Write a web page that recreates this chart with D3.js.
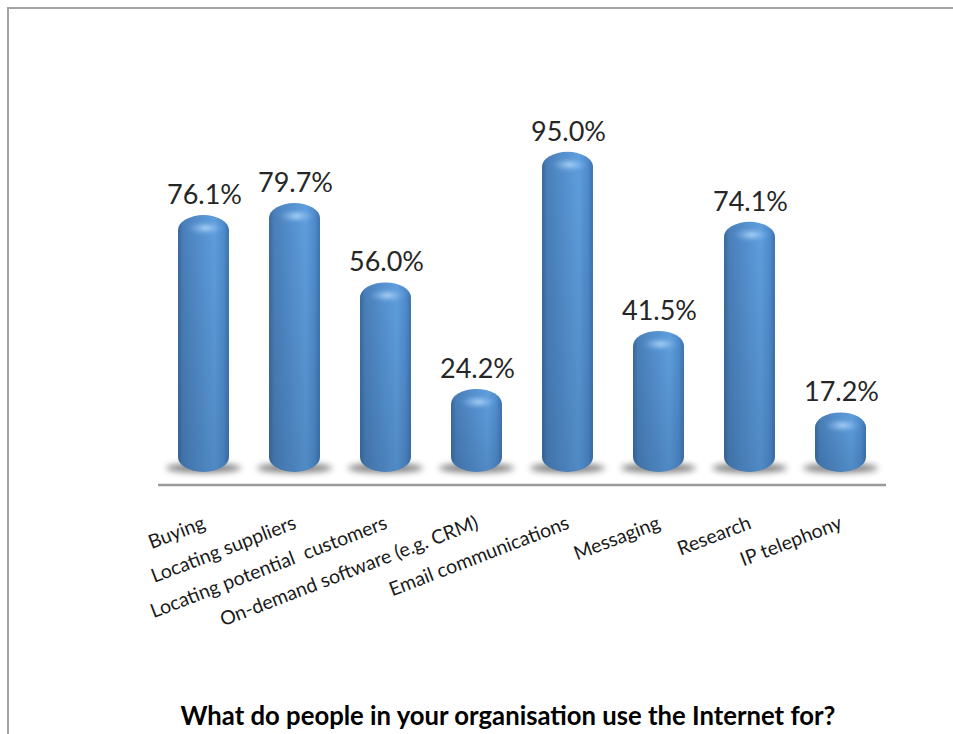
<!DOCTYPE html>
<html>
<head>
<meta charset="utf-8">
<script src="https://cdn.jsdelivr.net/npm/d3@7"></script>
<style>
  html, body { margin: 0; padding: 0; background: #ffffff; }
  svg { display: block; }
</style>
</head>
<body>
<svg id="chart" width="953" height="734"></svg>
<script>
// Survey results: share of organisations using the Internet for each purpose
const categories = [
  "Buying",
  "Locating suppliers",
  "Locating potential  customers",
  "On-demand software (e.g. CRM)",
  "Email communications",
  "Messaging",
  "Research",
  "IP telephony"
];
const values = [76.1, 79.7, 56.0, 24.2, 95.0, 41.5, 74.1, 17.2];
const title = "What do people in your organisation use the Internet for?";

const svg = d3.select("#chart");
const W = 953, H = 734;

// Frame
svg.append("rect")
  .attr("x", 8).attr("y", 8)
  .attr("width", W + 20).attr("height", H + 20)
  .attr("fill", "#ffffff")
  .attr("stroke", "#a3a3a3")
  .attr("stroke-width", 2);

const defs = svg.append("defs");

// Horizontal shading that gives the bars a cylindrical look
const grad = defs.append("linearGradient")
  .attr("id", "cyl").attr("x1", "0%").attr("x2", "100%").attr("y1", "0%").attr("y2", "0%");
[
  [0.00, "#37699c"],
  [0.10, "#4a80ba"],
  [0.45, "#5691cf"],
  [0.72, "#5e9edd"],
  [0.90, "#508ccd"],
  [1.00, "#3c72ad"]
].forEach(([o, c]) => grad.append("stop").attr("offset", o).attr("stop-color", c));

// Highlight on the rounded top of each bar
const hl = defs.append("radialGradient").attr("id", "capHL");
hl.append("stop").attr("offset", 0).attr("stop-color", "#bfe0ff").attr("stop-opacity", 0.85);
hl.append("stop").attr("offset", 1).attr("stop-color", "#7fb8ef").attr("stop-opacity", 0);

// Darkening toward the bottom of each bar
const bot = defs.append("linearGradient")
  .attr("id", "botShade").attr("x1", 0).attr("x2", 0).attr("y1", 0).attr("y2", 1);
bot.append("stop").attr("offset", 0).attr("stop-color", "#1d3f66").attr("stop-opacity", 0);
bot.append("stop").attr("offset", 1).attr("stop-color", "#1d3f66").attr("stop-opacity", 0.35);

const blur = defs.append("filter").attr("id", "soft")
  .attr("x", "-30%").attr("y", "-100%").attr("width", "160%").attr("height", "300%");
blur.append("feGaussianBlur").attr("stdDeviation", 3);

const hlBlur = defs.append("filter").attr("id", "hlBlur")
  .attr("x", "-50%").attr("y", "-50%").attr("width", "200%").attr("height", "200%");
hlBlur.append("feGaussianBlur").attr("stdDeviation", 1.5);

// Scales
const x = d3.scaleBand()
  .domain(categories)
  .range([158, 886])
  .paddingInner(0.44)
  .paddingOuter(0.22);

const y = d3.scaleLinear().domain([0, 100]).range([470, 135]);

const data = categories.map((c, i) => ({ cat: c, val: values[i] }));
const bw = x.bandwidth();
const rx = bw / 2, ry = 15;

// Shadows on the floor
svg.append("g").selectAll("ellipse")
  .data(data).join("ellipse")
  .attr("cx", d => x(d.cat) + bw / 2)
  .attr("cy", y(0) - 2)
  .attr("rx", bw / 2 + 12)
  .attr("ry", 5)
  .attr("fill", "#6e6e6e")
  .attr("opacity", 0.85)
  .attr("filter", "url(#soft)");

// Bars
const bars = svg.append("g").selectAll("g")
  .data(data).join("g");

bars.append("rect")
  .attr("x", d => x(d.cat))
  .attr("y", d => y(d.val))
  .attr("width", bw)
  .attr("height", d => y(0) + 2 - y(d.val))
  .attr("rx", rx).attr("ry", ry)
  .attr("fill", "url(#cyl)");

bars.append("rect")
  .attr("x", d => x(d.cat))
  .attr("y", d => y(d.val))
  .attr("width", bw)
  .attr("height", d => y(0) + 2 - y(d.val))
  .attr("rx", rx).attr("ry", ry)
  .attr("fill", "url(#botShade)")
  .attr("opacity", 0.6);

bars.append("ellipse")
  .attr("cx", d => x(d.cat) + bw / 2 + 2)
  .attr("cy", d => y(d.val) + 13)
  .attr("rx", bw * 0.36)
  .attr("ry", 7)
  .attr("fill", "url(#capHL)")
  .attr("filter", "url(#hlBlur)");

// Value labels
svg.append("g").selectAll("text")
  .data(data).join("text")
  .attr("x", d => x(d.cat) + bw / 2 + 1)
  .attr("y", d => y(d.val) - 11)
  .attr("text-anchor", "middle")
  .attr("font-family", "Lato, 'Open Sans', sans-serif")
  .attr("font-size", 27)
  .attr("fill", "#262626")
  .text(d => d.val.toFixed(1) + "%");

// Category axis line
svg.append("line")
  .attr("x1", 158).attr("x2", 886)
  .attr("y1", 485).attr("y2", 485)
  .attr("stroke", "#9a9a9a")
  .attr("stroke-width", 2.5);

// Slanted category labels
svg.append("g").selectAll("text")
  .data(data).join("text")
  .attr("transform", d => `translate(${x(d.cat) + bw / 2 + 3},528) rotate(-21)`)
  .attr("text-anchor", "end")
  .attr("font-family", "Lato, 'Open Sans', sans-serif")
  .attr("font-size", 19.5)
  .attr("fill", "#1a1a1a")
  .attr("xml:space", "preserve")
  .style("white-space", "pre")
  .text(d => d.cat);

// Title
svg.append("text")
  .attr("x", 508)
  .attr("y", 725)
  .attr("text-anchor", "middle")
  .attr("font-family", "Lato, 'Open Sans', sans-serif")
  .attr("font-weight", "bold")
  .attr("font-size", 25.7)
  .attr("fill", "#000000")
  .text(title);
</script>
</body>
</html>
